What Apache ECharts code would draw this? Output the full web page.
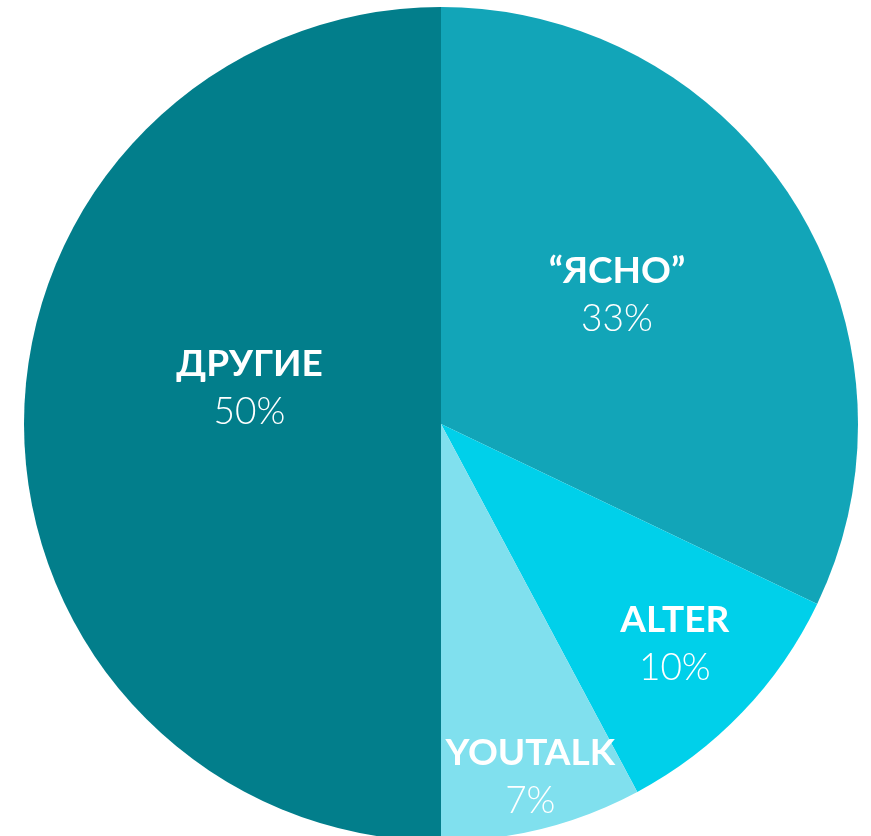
<!DOCTYPE html>
<html>
<head>
<meta charset="utf-8">
<script src="https://cdn.jsdelivr.net/npm/echarts@6/dist/echarts.min.js"></script>
<style>
  html, body { margin: 0; padding: 0; background: #fff; }
  #chart { width: 871px; height: 836px; }
</style>
</head>
<body>
<div id="chart"></div>
<script>
  // доли сегментов (по картинке) и подписи
  var names = ['“ЯСНО”', 'ALTER', 'YOUTALK', 'ДРУГИЕ'];
  var values = [32.1, 10.1, 7.8, 50];
  var pctLabels = ['33%', '10%', '7%', '50%'];
  var colors = ['#12a5b8', '#00d0ea', '#80e0ee', '#027e8b'];
  // сдвиг подписей внутри сегментов
  var offsets = [[-3, -16], [81, 74], [38, 148], [20, -36]];

  var data = names.map(function (n, i) {
    return {
      name: n,
      value: values[i],
      itemStyle: { color: colors[i] },
      label: { offset: offsets[i] }
    };
  });

  var myChart = echarts.init(document.getElementById('chart'));
  myChart.setOption({
    animation: false,
    series: [
      {
        type: 'pie',
        center: [441, 424],
        radius: 417,
        startAngle: 90,
        clockwise: true,
        silent: true,
        itemStyle: { borderWidth: 0 },
        label: {
          show: true,
          position: 'inside',
          formatter: function (p) {
            return '{n|' + p.name + '}\n{p|' + pctLabels[p.dataIndex] + '}';
          },
          rich: {
            n: {
              color: '#fff',
              fontFamily: 'Lato, sans-serif',
              fontWeight: 700,
              fontSize: 37,
              lineHeight: 48,
              align: 'center'
            },
            p: {
              color: '#fff',
              fontFamily: 'Lato, sans-serif',
              fontWeight: 300,
              fontSize: 37,
              lineHeight: 48,
              align: 'center'
            }
          }
        },
        labelLine: { show: false },
        data: data
      }
    ]
  });
</script>
</body>
</html>
